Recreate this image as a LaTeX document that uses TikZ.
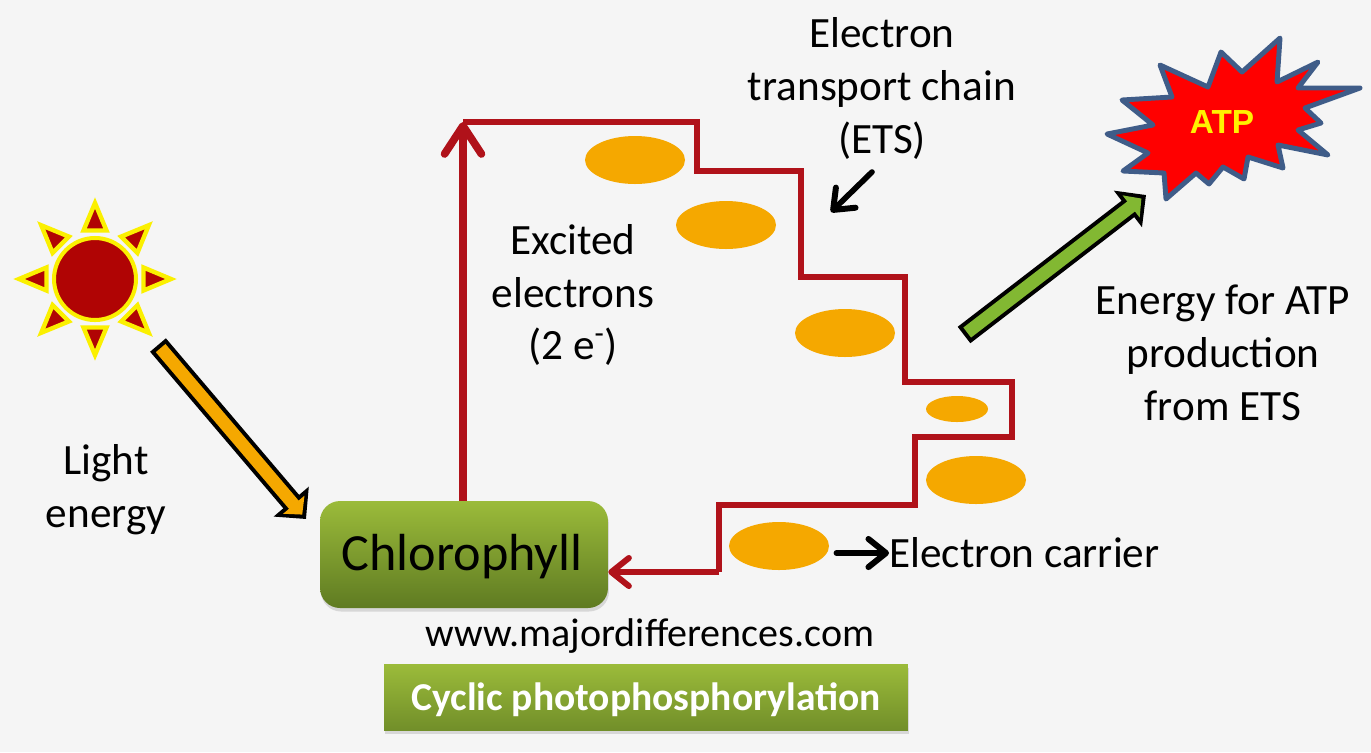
\documentclass[tikz,border=0pt]{standalone}
\usepackage{fontspec}
\setmainfont{Carlito}
\newfontfamily\atpfont{Liberation Sans}
\usepackage{xcolor}
\usetikzlibrary{shapes.geometric,arrows.meta,shadows}
\definecolor{page-grey}{HTML}{F5F5F5}
\definecolor{chain-red}{HTML}{B0121A}
\definecolor{carrier-orange}{HTML}{F5A800}
\definecolor{sun-red}{HTML}{B00404}
\definecolor{sun-yellow}{HTML}{FBF000}
\definecolor{leaf-top}{HTML}{9BBB3A}
\definecolor{leaf-bottom}{HTML}{5F7B22}
\definecolor{arrow-green}{HTML}{82B832}
\definecolor{burst-blue}{HTML}{3F5C88}

\begin{document}
\begin{tikzpicture}[
    x=0.02cm, y=-0.02cm,
    label/.style={align=center, inner sep=0pt, font=\fontsize{24.6}{30}\selectfont},
    carrier/.style={ellipse, fill=carrier-orange, inner sep=0pt, minimum width=2cm, minimum height=0.96cm},
    leaf/.style={top color=leaf-top, drop shadow={shadow xshift=0.02cm, shadow yshift=-0.07cm, opacity=0.25}},
    wire/.style={draw=chain-red, line width=3.2pt, line join=miter},
    pointer/.style={->, >={Straight Barb[round, length=10pt, width=16pt, line width=3.4pt]}, black, line width=3.2pt, line cap=round},
    ray/.style={fill=sun-red, draw=sun-yellow, line width=2.5pt, line join=miter},
    fatedge/.style={draw=black, line width=11.8pt, -{Triangle[length=13pt, width=25.5pt]}},
    fatcore/.style={draw=#1, line width=7.2pt, -{Triangle[length=7.4pt, width=15.5pt]}, shorten >=3.3pt, shorten <=2.3pt}
]
    \useasboundingbox (0,0) rectangle (1371,752);
    \fill[page-grey] (0,0) rectangle (1371,752);

    % sun
    \foreach \a in {0,45,...,315}
        \draw[ray, shift={(95,279)}, rotate=\a] (0,-76) -- (-11.5,-48.5) -- (11.5,-48.5) -- cycle;
    \node[circle, fill=sun-red, draw=sun-yellow, line width=2.3pt, minimum size=1.64cm, inner sep=0pt] (sun) at (95,279) {};

    % energy arrows
    \coordinate (lightTail) at (158,345);
    \coordinate (lightTip) at (306,519);
    \coordinate (atpTail) at (964,335);
    \coordinate (atpTip) at (1146,195);
    \draw[fatedge] (lightTail) -- (lightTip);
    \draw[fatcore=carrier-orange] (lightTail) -- (lightTip);
    \draw[fatedge] (atpTail) -- (atpTip);
    \draw[fatcore=arrow-green] (atpTail) -- (atpTip);

    % burst
    \draw[fill=red, draw=burst-blue, line width=2.8pt, line join=round]
        (1107,134) -- (1153,125) -- (1122,100) -- (1172,97) -- (1160,65) -- (1208,87) -- (1221,52)
        -- (1242,72) -- (1280,38) -- (1277,82) -- (1318,62) -- (1298,88) -- (1360,88) -- (1305,108)
        -- (1321,123) -- (1298,130) -- (1328,155) -- (1278,145) -- (1283,168) -- (1248,157)
        -- (1244,179) -- (1223,167) -- (1209,184) -- (1196,173) -- (1166,199) -- (1164,173)
        -- (1123,171) -- (1148,153) -- cycle;
    \node[inner sep=0pt, text=yellow, font=\atpfont\bfseries\fontsize{19}{23}\selectfont] (atp) at (1222,122) {ATP};

    % main boxes
    \node[leaf, bottom color=leaf-bottom, rounded corners=0.4cm, minimum width=5.76cm, minimum height=2.14cm, text depth=2.4pt, font=\fontsize{29.7}{35}\selectfont] (chl) at (464,554.5) {Chlorophyll\hspace*{2.3pt}};
    \node[leaf, bottom color=leaf-bottom!70!leaf-top, minimum width=10.48cm, minimum height=1.32cm, text=white, text depth=1pt, font=\bfseries\fontsize{22.5}{27}\selectfont] (title) at (646,697.5) {Cyclic photophosphorylation};

    % carriers
    \node[carrier] (e1) at (635,160) {};
    \node[carrier] (e2) at (726,225) {};
    \node[carrier] (e3) at (845,333) {};
    \node[carrier, minimum width=1.24cm, minimum height=0.52cm] (e4) at (957,409) {};
    \node[carrier] (e5) at (976,480) {};
    \node[carrier] (e6) at (779,546) {};

    % red chain
    \coordinate (peak) at (463,122);
    \coordinate (foot) at (719,572);
    \draw[wire, line width=4.2pt, -{Straight Barb[round, length=16pt, width=21pt, line width=4.4pt]}] (chl.north -| peak) -- (peak);
    \draw[wire] (peak) -- ++(234,0) -- ++(0,49) -- ++(104,0) -- ++(0,106) -- ++(104,0) -- ++(0,105)
        -- ++(107,0) -- ++(0,55) -- ++(-97,0) -- ++(0,68) -- ++(-196,0) -- (foot);
    \draw[wire, -{Straight Barb[round, length=10pt, width=16pt, line width=3.4pt]}] (foot) -- (chl.east |- foot);

    % labels
    \node[label] (ets) at (882,88.5) {Electron\\transport chain\\(ETS)};
    \node[label] (excited) at (573,295) {Excited\\electrons\\(2 e\textsuperscript{-})};
    \node[label] (light) at (106,490) {Light\\energy};
    \node[label] (atpnote) at (1223,353) {Energy for ATP\\production\\from ETS};
    \node[label, anchor=west] (carrierlabel) at (889,553) {Electron carrier};
    \node[label, font=\fontsize{22.8}{27}\selectfont] (web) at (650,636) {www.majordifferences.com};

    \coordinate (etsTail) at (872,172);
    \coordinate (etsTip) at (831,212);
    \draw[pointer] (etsTail) -- (etsTip);
    \draw[pointer, shorten <=4pt] (e6.east |- carrierlabel.west) -- (carrierlabel.west);
\end{tikzpicture}
\end{document}
